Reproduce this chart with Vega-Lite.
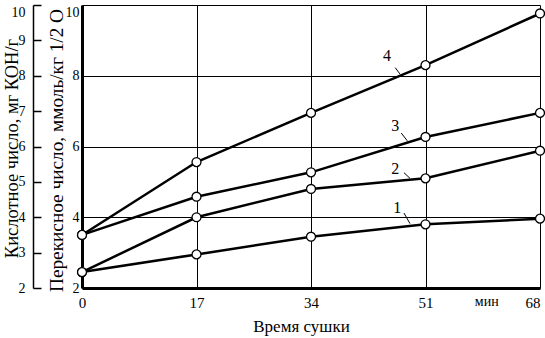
{
  "$schema": "https://vega.github.io/schema/vega-lite/v6.json",
  "autosize": "none",
  "width": 458,
  "height": 283,
  "padding": {"left": 82, "top": 5, "right": 5, "bottom": 50},
  "background": "white",
  "config": {
    "view": {"stroke": null},
    "font": "Liberation Serif, Times New Roman, serif",
    "axis": {"labelFont": "Liberation Serif, Times New Roman, serif", "titleFont": "Liberation Serif, Times New Roman, serif", "labelColor": "black", "titleColor": "black", "titleFontWeight": "normal", "domainColor": "black", "tickColor": "black", "gridColor": "black", "gridOpacity": 1}
  },
  "datasets": {
    "curves": [
      {"s": "1", "t": 0, "v": 2.45}, {"s": "1", "t": 17, "v": 2.95}, {"s": "1", "t": 34, "v": 3.45}, {"s": "1", "t": 51, "v": 3.8}, {"s": "1", "t": 68, "v": 3.96},
      {"s": "2", "t": 0, "v": 2.45}, {"s": "2", "t": 17, "v": 4.0}, {"s": "2", "t": 34, "v": 4.8}, {"s": "2", "t": 51, "v": 5.1}, {"s": "2", "t": 68, "v": 5.88},
      {"s": "3", "t": 0, "v": 3.5}, {"s": "3", "t": 17, "v": 4.58}, {"s": "3", "t": 34, "v": 5.27}, {"s": "3", "t": 51, "v": 6.27}, {"s": "3", "t": 68, "v": 6.95},
      {"s": "4", "t": 0, "v": 3.5}, {"s": "4", "t": 17, "v": 5.56}, {"s": "4", "t": 34, "v": 6.95}, {"s": "4", "t": 51, "v": 8.3}, {"s": "4", "t": 68, "v": 9.76}
    ],
    "labels": [
      {"txt": "4", "t": 45.3, "v": 8.55, "t2": 46.5, "v2": 8.23, "t3": 47.2, "v3": 8.05},
      {"txt": "3", "t": 46.5, "v": 6.59, "t2": 47.4, "v2": 6.38, "t3": 48.3, "v3": 6.16},
      {"txt": "2", "t": 46.5, "v": 5.35, "t2": 47.8, "v2": 5.26, "t3": 48.7, "v3": 5.1},
      {"txt": "1", "t": 46.8, "v": 4.27, "t2": 47.8, "v2": 4.12, "t3": 48.7, "v3": 3.82}
    ],
    "unit": [{"txt": "мин", "t": 60.1, "v": 2}]
  },
  "layer": [
    {
      "layer": [
        {
          "data": {"name": "curves"},
          "mark": {"type": "line", "color": "black", "strokeWidth": 2.5},
          "encoding": {
            "x": {"field": "t", "type": "quantitative", "scale": {"domain": [0, 68], "nice": false, "zero": false},
              "axis": {"values": [0, 17, 34, 51, 68], "grid": true, "gridWidth": 1, "ticks": false, "domainWidth": 3, "labelFontSize": 15, "labelPadding": 7,
                "labelAlign": {"expr": "datum.value == 68 ? 'right' : 'center'"},
                "title": "Время сушки", "titleFontSize": 17, "titleX": 219, "titlePadding": 8}},
            "y": {"field": "v", "type": "quantitative", "scale": {"domain": [2, 10], "nice": false, "zero": false},
              "axis": {"orient": "left", "values": [2, 3, 4, 5, 6, 7, 8, 9, 10], "grid": true, "gridWidth": 1, "ticks": false, "domainWidth": 3, "labelFontSize": 14, "labelPadding": 3,
                "labelBaseline": {"expr": "datum.value == 10 ? 'top' : 'middle'"},
                "title": "Перекисное число, ммоль/кг 1/2 О", "titleFontSize": 19.3, "titleX": -26, "titleY": 145, "titleBaseline": "middle"}},
            "detail": {"field": "s"}
          }
        },
        {
          "data": {"name": "curves"},
          "mark": {"type": "point", "shape": "circle", "filled": true, "fill": "white", "stroke": "black", "strokeWidth": 1.3, "size": 80, "opacity": 1},
          "encoding": {
            "x": {"field": "t", "type": "quantitative"},
            "y": {"field": "v", "type": "quantitative"}
          }
        },
        {
          "data": {"name": "labels"},
          "mark": {"type": "text", "fontSize": 16, "color": "black", "baseline": "middle", "align": "center", "font": "Liberation Serif, Times New Roman, serif"},
          "encoding": {
            "x": {"field": "t", "type": "quantitative"},
            "y": {"field": "v", "type": "quantitative"},
            "text": {"field": "txt"}
          }
        },
        {
          "data": {"name": "labels"},
          "mark": {"type": "rule", "color": "black", "strokeWidth": 1},
          "encoding": {
            "x": {"field": "t2", "type": "quantitative"},
            "y": {"field": "v2", "type": "quantitative"},
            "x2": {"field": "t3"},
            "y2": {"field": "v3"}
          }
        },
        {
          "data": {"name": "unit"},
          "mark": {"type": "text", "fontSize": 14, "color": "black", "baseline": "middle", "align": "center", "dy": 14, "clip": false, "font": "Liberation Serif, Times New Roman, serif"},
          "encoding": {
            "x": {"field": "t", "type": "quantitative"},
            "y": {"field": "v", "type": "quantitative"},
            "text": {"field": "txt"}
          }
        }
      ]
    },
    {
      "data": {"name": "curves"},
      "mark": {"type": "point", "opacity": 0},
      "encoding": {
        "x": {"field": "t", "type": "quantitative"},
        "y": {"field": "v", "type": "quantitative", "scale": {"domain": [2, 10], "nice": false, "zero": false},
          "axis": {"orient": "left", "offset": 49, "values": [2, 3, 4, 5, 6, 7, 8, 9, 10], "grid": false, "ticks": true, "tickSize": -8, "tickWidth": 1.5, "domainWidth": 1.5, "labelFontSize": 14, "labelPadding": 16, "labelAlign": "right",
            "labelBaseline": {"expr": "datum.value == 10 ? 'top' : 'middle'"},
            "title": "Кислотное число, мг КОН/г", "titleFontSize": 18.5, "titleX": -22, "titleY": 143, "titleBaseline": "middle"}}
      }
    }
  ],
  "resolve": {"scale": {"y": "independent"}}
}
